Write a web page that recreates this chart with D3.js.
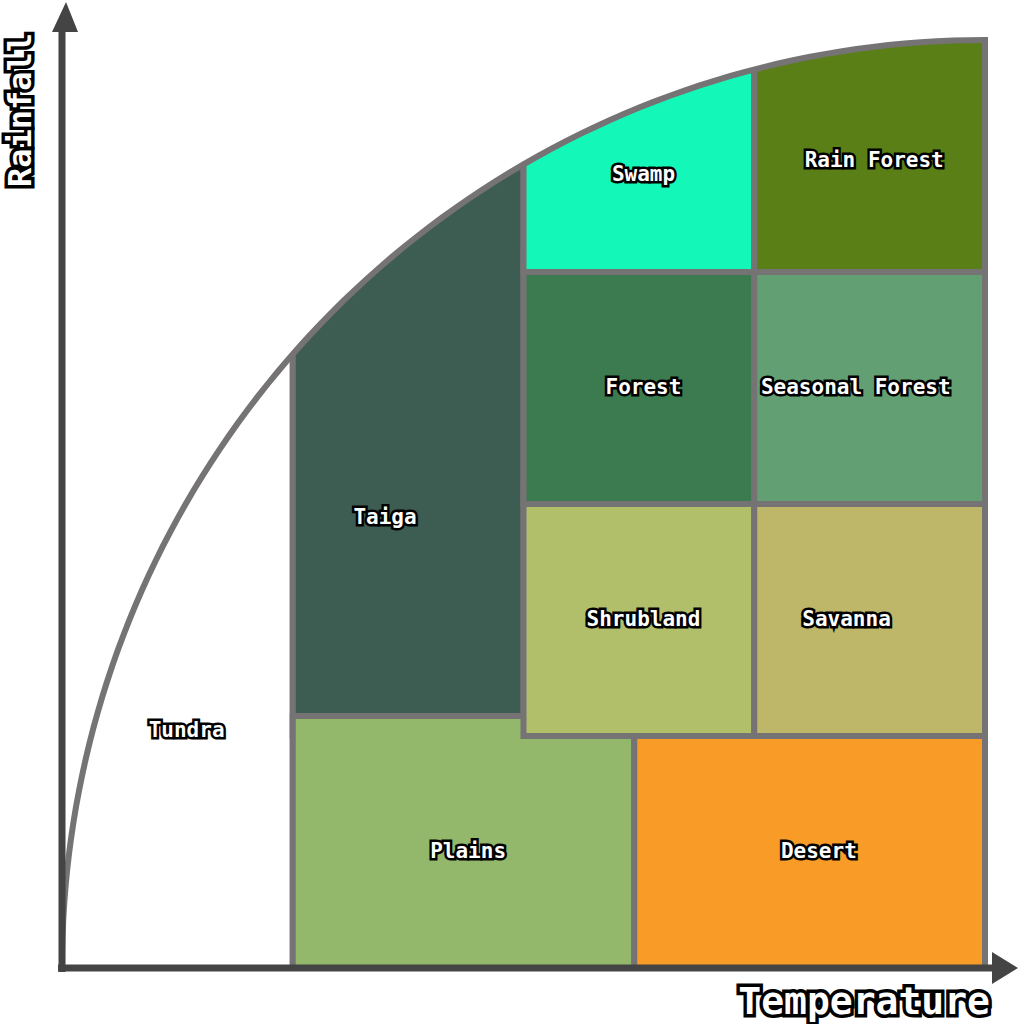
<!DOCTYPE html>
<html>
<head>
<meta charset="UTF-8">
<style>
  html, body { margin: 0; padding: 0; background: #fff; }
  text { font-family: "DejaVu Sans Mono", monospace; font-weight: bold; }
</style>
</head>
<body>
<svg width="1024" height="1024"></svg>
<script src="https://d3js.org/d3.v7.min.js"></script>
<script>
// biomes: temperature range [t0,t1], rainfall range [r0,r1] (0..1)
const biomes = ["Tundra", "Taiga", "Plains", "Desert", "Shrubland", "Savanna", "Forest", "Seasonal Forest", "Swamp", "Rain Forest"];
const t0 = [0, 0.25, 0.25, 0.62, 0.5, 0.75, 0.5, 0.75, 0.5, 0.75];
const t1 = [0.25, 0.5, 0.62, 1, 0.75, 1, 0.75, 1, 0.75, 1];
const r0 = [0, 0.25, 0, 0, 0.25, 0.25, 0.5, 0.5, 0.75, 0.75];
const r1 = [1, 1, 0.25, 0.25, 0.5, 0.5, 0.75, 0.75, 1, 1];
const colors = ["#ffffff", "#3d5c52", "#93b76b", "#f99b27", "#b1bf6a", "#beb76a", "#3c7b4f", "#62a073", "#13f8b8", "#5b7f17"];
const labelPos = [[0.135, 0.255], [0.35, 0.485], [0.44, 0.125], [0.82, 0.125], [0.63, 0.375], [0.85, 0.375], [0.63, 0.625], [0.86, 0.625], [0.63, 0.855], [0.88, 0.87]];

const svg = d3.select("svg");
const x = d3.scaleLinear().domain([0, 1]).range([62, 985]);
const y = d3.scaleLinear().domain([0, 1]).range([968, 40]);

// quarter-ellipse boundary
const arcPts = d3.range(0, 91).map(a => {
  const r = a * Math.PI / 180;
  return [x(1 - Math.cos(r)), y(Math.sin(r))];
});
const boundary = [[x(1), y(0)], ...arcPts];
svg.append("clipPath").attr("id", "clip")
  .append("path").attr("d", d3.line()(boundary) + "Z");

const g = svg.append("g").attr("clip-path", "url(#clip)");
g.selectAll("rect").data(biomes).join("rect")
  .attr("x", (d, i) => x(t0[i]))
  .attr("y", (d, i) => y(r1[i]) - 20)
  .attr("width", (d, i) => x(t1[i]) - x(t0[i]))
  .attr("height", (d, i) => y(r0[i]) - y(r1[i]) + 20)
  .attr("fill", (d, i) => colors[i])
  .attr("stroke", "#757374").attr("stroke-width", 6);

svg.append("path").attr("d", d3.line()(arcPts))
  .attr("fill", "none").attr("stroke", "#757374").attr("stroke-width", 6);
svg.append("line").attr("x1", x(1)).attr("x2", x(1)).attr("y1", y(0)).attr("y2", y(1) - 3)
  .attr("stroke", "#757374").attr("stroke-width", 6);

// axes
svg.append("line").attr("x1", 58).attr("y1", 968).attr("x2", 995).attr("y2", 968)
  .attr("stroke", "#444").attr("stroke-width", 7);
svg.append("path").attr("d", "M992,952 L1018,968 L992,984 Z").attr("fill", "#444");
svg.append("line").attr("x1", 62).attr("y1", 972).attr("x2", 62).attr("y2", 28)
  .attr("stroke", "#444").attr("stroke-width", 7);
svg.append("path").attr("d", "M52,32 L66,2 L78,32 Z").attr("fill", "#444");

// labels
svg.selectAll("text.lab").data(biomes).join("text").attr("class", "lab")
  .attr("x", (d, i) => x(labelPos[i][0]))
  .attr("y", (d, i) => y(labelPos[i][1]))
  .attr("text-anchor", "middle").attr("dominant-baseline", "middle")
  .attr("font-size", 21)
  .attr("fill", "#fff").attr("stroke", "#000").attr("stroke-width", 5)
  .attr("paint-order", "stroke").attr("stroke-linejoin", "miter")
  .text(d => d);

svg.append("text").attr("x", 990).attr("y", 1003)
  .attr("text-anchor", "end").attr("dominant-baseline", "middle")
  .attr("font-size", 38).attr("fill", "#fff").attr("stroke", "#000").attr("stroke-width", 7)
  .attr("paint-order", "stroke").text("Temperature");
svg.append("text").attr("transform", "translate(22,110) rotate(-90)")
  .attr("text-anchor", "middle").attr("dominant-baseline", "middle")
  .attr("font-size", 32).attr("fill", "#fff").attr("stroke", "#000").attr("stroke-width", 7)
  .attr("paint-order", "stroke").text("Rainfall");
</script>
</body>
</html>
